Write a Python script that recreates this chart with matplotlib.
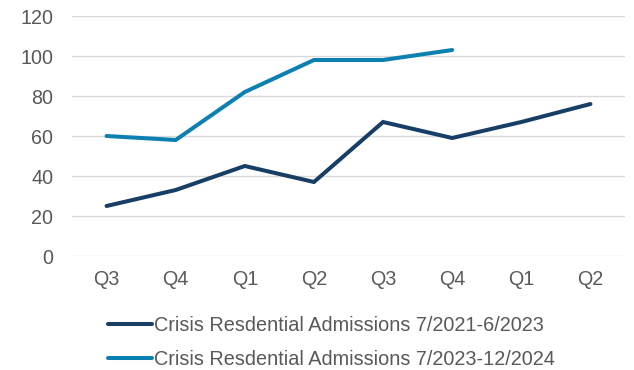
import matplotlib.pyplot as plt

quarters = ['Q3', 'Q4', 'Q1', 'Q2', 'Q3', 'Q4', 'Q1', 'Q2']
admissions_2021_2023 = [25, 33, 45, 37, 67, 59, 67, 76]
admissions_2023_2024 = [60, 58, 82, 98, 98, 103]
series_labels = ['Crisis Resdential Admissions 7/2021-6/2023',
                 'Crisis Resdential Admissions 7/2023-12/2024']

plt.rcParams['font.family'] = ['Liberation Sans', 'DejaVu Sans']
text_color = '#595959'

fig = plt.figure(figsize=(6.34, 3.70), dpi=100)
fig.patch.set_facecolor('white')
ax = fig.add_axes([72 / 634, 114 / 370, 553 / 634, 240 / 370])

x = list(range(len(quarters)))
ax.plot(x, admissions_2021_2023, color='#173f66', lw=2.9,
        solid_capstyle='round', solid_joinstyle='miter', label=series_labels[0])
ax.plot(x[:len(admissions_2023_2024)], admissions_2023_2024, color='#0c80b0', lw=2.9,
        solid_capstyle='round', solid_joinstyle='miter', label=series_labels[1])

ax.set_xlim(-0.5, len(quarters) - 0.5)
ax.set_ylim(0, 120)
ax.set_yticks(range(0, 121, 20))
ax.set_xticks(x)
ax.set_xticklabels(quarters)
ax.grid(axis='y', color='#d9d9d9', lw=1)
ax.set_axisbelow(True)
for s in ax.spines.values():
    s.set_visible(False)
ax.tick_params(length=0, labelsize=14.2, colors=text_color, pad=10)
ax.tick_params(axis='y', pad=13.5)

leg = fig.legend(loc='upper left', bbox_to_anchor=(100 / 634, 62 / 370),
                 frameon=False, fontsize=14.3, handlelength=2.2,
                 handletextpad=0.1, labelspacing=0.75, borderaxespad=0)
for t in leg.get_texts():
    t.set_color(text_color)

fig.savefig('out.png', dpi=100)
